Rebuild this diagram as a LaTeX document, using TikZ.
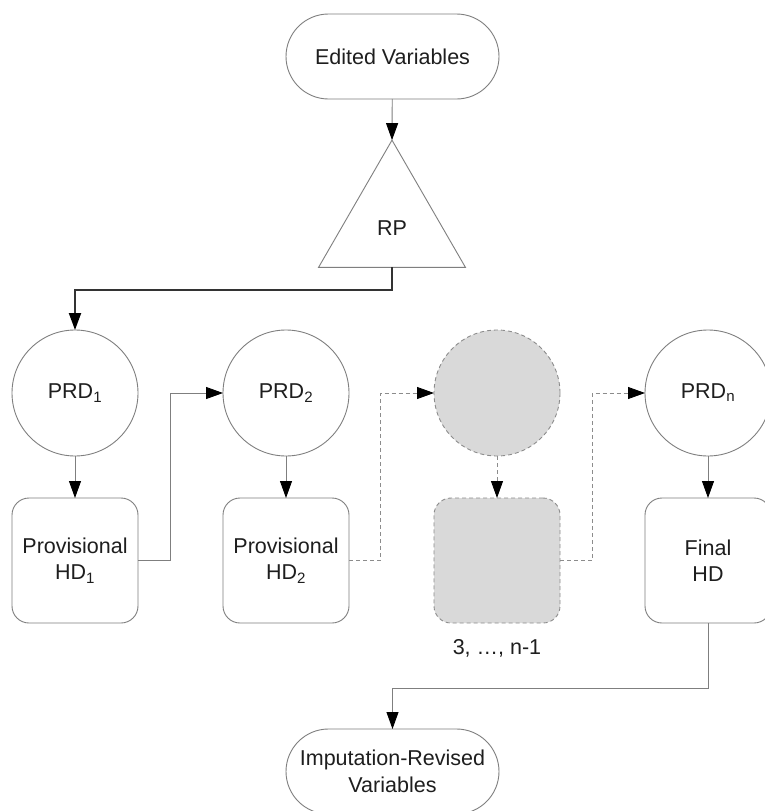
\documentclass[tikz,border=0pt]{standalone}
\usepackage{fontspec}
\setmainfont{Liberation Sans}
\usetikzlibrary{arrows.meta,shapes.geometric,shapes.misc}
\definecolor{outl}{HTML}{7F7F7F}
\definecolor{txt}{HTML}{1E1E1E}
\definecolor{shade}{HTML}{D9D9D9}
\definecolor{dashc}{HTML}{8C8C8C}
\begin{document}
\begin{tikzpicture}[x=1pt,y=-1pt,
  every node/.style={inner sep=0pt,outer sep=0pt,text=txt,font=\fontsize{21.5}{26.5}\selectfont,align=center},
  base/.style={draw=outl,line width=0.9pt},
  stadium/.style={base,rounded rectangle,minimum width=213pt,minimum height=85pt},
  prdcircle/.style={base,circle,minimum size=126pt},
  hdbox/.style={base,rectangle,rounded corners=17pt,minimum width=126pt,minimum height=125pt},
  ghost/.style={dashed,dash pattern=on 4pt off 3pt,draw=dashc,fill=shade},
  tip/.style={-{Triangle[length=17pt,width=12pt,color=black,fill=black]}},
  conn/.style={draw=outl,line width=0.9pt,tip},
  dconn/.style={conn,draw=dashc,dash pattern=on 4pt off 3pt},
  bold conn/.style={draw=black!80,line width=2pt,tip}
]
\useasboundingbox (0,0) rectangle (765,811);
\clip (0,0) rectangle (765,811);
\fill[white] (0,0) rectangle (765,811);

\node[stadium] (ev) at (392.5,56.5) {Edited Variables};
\node[base,regular polygon,regular polygon sides=3,minimum size=169.7pt] (rp) at (392,225) {};
\node (rplabel) at (392,228) {RP};

\node[prdcircle] (prd1) at (75,393) {PRD\textsubscript{1}};
\node[prdcircle] (prd2) at (286,393) {PRD\textsubscript{2}};
\node[prdcircle,ghost] (prd3) at (497,393) {};
\node[prdcircle] (prdn) at (708,393) {PRD\textsubscript{n}};

\node[hdbox] (hd1) at (75,560.5) {Provisional\\HD\textsubscript{1}};
\node[hdbox] (hd2) at (286,560.5) {Provisional\\HD\textsubscript{2}};
\node[hdbox,ghost] (hd3) at (497,560.5) {};
\node[hdbox] (fhd) at (708,560.5) {Final\\HD};
\node (dots) at (497,648) {3, …, n-1};

\node[stadium] (irv) at (392.5,771.5) {Imputation-Revised\\Variables};

\coordinate (j1) at (0,290);
\coordinate (j2) at (0,688);
\coordinate (k1) at (170,393);
\coordinate (k2) at (380,393);
\coordinate (k3) at (592,393);

\draw[conn] (ev) -- (rp.north);
\draw[bold conn] (rp.south) -- (rp.south |- j1) -| (prd1.north);
\draw[conn] (prd1) -- (hd1);
\draw[conn] (prd2) -- (hd2);
\draw[dconn] (prd3) -- (hd3);
\draw[conn] (prdn) -- (fhd);
\draw[conn] (hd1.east) -| (k1) -- (prd2.west);
\draw[dconn] (hd2.east) -| (k2) -- (prd3.west);
\draw[dconn] (hd3.east) -| (k3) -- (prdn.west);
\draw[conn] (fhd.south) -- (fhd.south |- j2) -| (irv.north);
\end{tikzpicture}
\end{document}
